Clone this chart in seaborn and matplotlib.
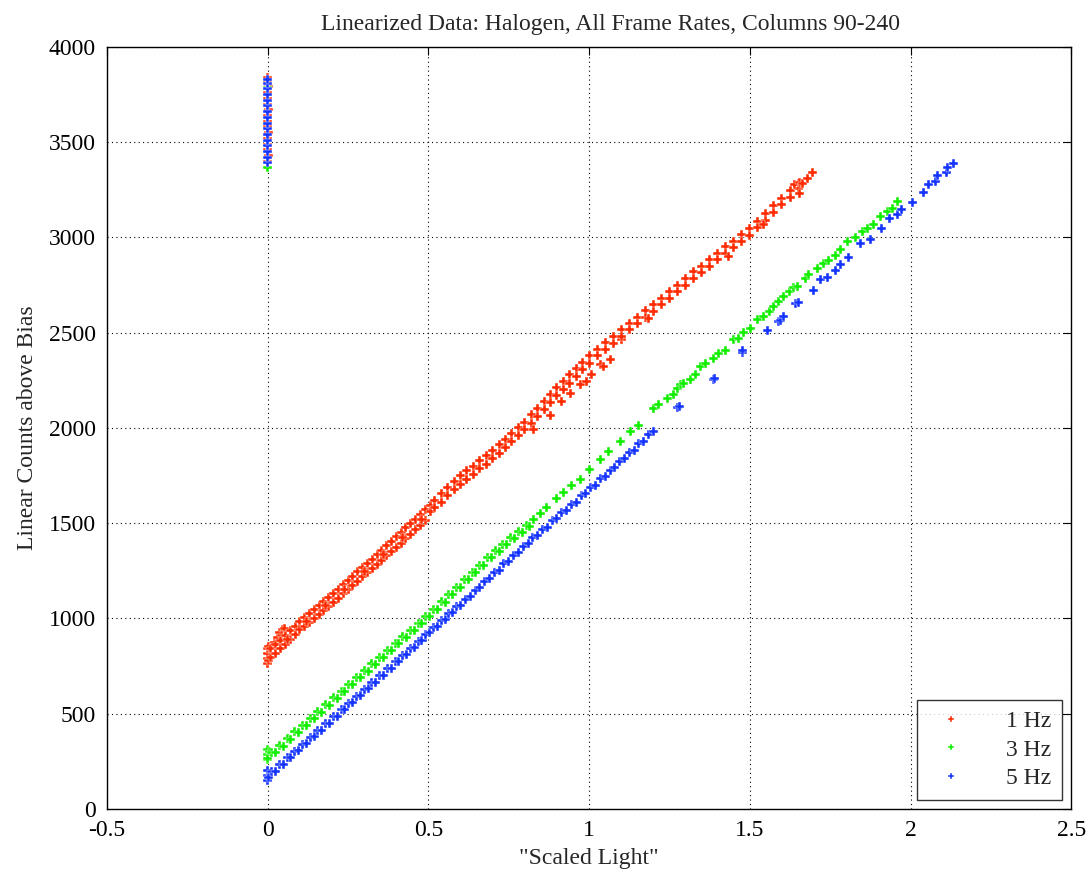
import pandas as pd
import matplotlib
matplotlib.use("Agg")
import matplotlib.pyplot as plt
import seaborn as sns

# values, (scaled light, counts)
pts_1hz_col = [(0, 3400), (0.002, 3430), (0, 3460), (-0.002, 3490), (0, 3520), (0.002, 3550),
               (0, 3580), (-0.002, 3610), (0, 3640), (0.002, 3670), (0, 3700), (-0.002, 3730),
               (0, 3760), (0.002, 3790), (0, 3815), (0, 3840)]
pts_3hz_col = [(0, 3368), (0, 3785)]
pts_5hz_col = [(0, 3395), (0, 3420), (0, 3450), (0, 3480), (0, 3510), (0, 3540), (0, 3570),
               (0, 3600), (0, 3630), (0, 3660), (0, 3690), (0, 3720), (0, 3750), (0, 3780),
               (0, 3810), (0, 3830)]

pts_1hz = [
    (0, 765), (0, 790), (0, 815), (0, 840), (0.002, 852), (0.002, 778),
    (0.02, 872), (0.03, 902), (0.038, 925), (0.046, 942), (0.052, 948), (0.044, 912),
    (0.010, 840), (0.010, 795), (0.025, 865), (0.025, 815), (0.040, 885), (0.040, 842),
    (0.055, 912), (0.055, 865), (0.070, 935), (0.070, 890), (0.085, 958), (0.085, 915),
    (0.100, 985), (0.100, 940), (0.115, 1005), (0.115, 958), (0.130, 1028), (0.130, 980),
    (0.145, 1045), (0.145, 1000), (0.160, 1068), (0.160, 1022), (0.175, 1090), (0.175, 1040),
    (0.190, 1110), (0.190, 1062), (0.205, 1130), (0.205, 1085), (0.220, 1152), (0.220, 1105),
    (0.235, 1178), (0.235, 1130), (0.250, 1198), (0.250, 1150), (0.265, 1222), (0.265, 1172),
    (0.280, 1245), (0.280, 1195), (0.295, 1268), (0.295, 1218), (0.310, 1290), (0.310, 1240),
    (0.325, 1312), (0.325, 1262), (0.340, 1335), (0.340, 1285), (0.355, 1358), (0.355, 1305),
    (0.370, 1382), (0.370, 1330), (0.385, 1402), (0.385, 1350), (0.400, 1428), (0.400, 1372),
    (0.415, 1450), (0.415, 1395), (0.430, 1475), (0.430, 1420), (0.445, 1498), (0.445, 1440),
    (0.460, 1522), (0.460, 1465), (0.475, 1545), (0.475, 1490), (0.490, 1570), (0.490, 1512),
    (0.06, 888), (0.12, 982), (0.18, 1066), (0.24, 1152), (0.30, 1245), (0.36, 1335),
    (0.42, 1425), (0.48, 1518),
    (0.505, 1595), (0.505, 1560), (0.52, 1620), (0.52, 1580), (0.54, 1655), (0.54, 1610),
    (0.56, 1685), (0.56, 1645), (0.58, 1720), (0.58, 1678), (0.60, 1748), (0.60, 1705),
    (0.62, 1775), (0.62, 1730), (0.64, 1800), (0.64, 1758), (0.66, 1828), (0.66, 1785),
    (0.68, 1855), (0.68, 1810), (0.70, 1880), (0.70, 1838), (0.72, 1912), (0.72, 1868),
    (0.74, 1940), (0.74, 1898), (0.76, 1970), (0.76, 1928), (0.78, 2002), (0.78, 1958),
    (0.80, 2030), (0.80, 1990), (0.82, 2068), (0.82, 2025), (0.84, 2102), (0.84, 2060),
    (0.86, 2138), (0.86, 2095), (0.88, 2175), (0.88, 2132), (0.90, 2210), (0.90, 2168),
    (0.92, 2245), (0.92, 2202), (0.94, 2278), (0.94, 2235), (0.96, 2312), (0.96, 2270),
    (0.98, 2345), (0.98, 2305), (1.00, 2378), (1.00, 2338),
    (0.828, 1990), (0.88, 2065), (0.915, 2138), (0.942, 2182), (0.973, 2226), (0.993, 2243),
    (1.008, 2278), (1.035, 2331), (1.046, 2322), (1.066, 2357), (1.1, 2462),
    (1.025, 2410), (1.025, 2380), (1.05, 2448), (1.05, 2412), (1.075, 2480), (1.075, 2445),
    (1.10, 2518), (1.10, 2480), (1.125, 2550), (1.125, 2515), (1.15, 2580), (1.15, 2548),
    (1.175, 2615), (1.175, 2580), (1.20, 2648), (1.20, 2612), (1.225, 2680), (1.225, 2650),
    (1.25, 2715), (1.25, 2682), (1.275, 2750), (1.275, 2718), (1.30, 2785), (1.30, 2750),
    (1.325, 2820), (1.325, 2785), (1.35, 2850), (1.35, 2818), (1.375, 2885), (1.375, 2850),
    (1.40, 2918), (1.40, 2882), (1.425, 2950), (1.425, 2915), (1.45, 2980), (1.45, 2948),
    (1.475, 3015), (1.475, 2980), (1.50, 3048), (1.50, 3012), (1.525, 3085), (1.525, 3052),
    (1.55, 3125), (1.55, 3090), (1.575, 3165), (1.575, 3132), (1.60, 3205), (1.60, 3172),
    (1.625, 3245), (1.625, 3212), (1.65, 3285), (1.65, 3255),
    (1.186, 2577), (1.435, 2899), (1.544, 3066), (1.653, 3233),
    (1.64, 3280), (1.655, 3290), (1.665, 3285), (1.68, 3310), (1.695, 3340),
]

pts_3hz = [
    (0, 258), (0, 285), (0, 310), (0.004, 300),
    (0.000, 265), (0.012, 298), (0.024, 296), (0.036, 333), (0.048, 330), (0.060, 370),
    (0.072, 366), (0.084, 405), (0.096, 402), (0.108, 440), (0.120, 438), (0.132, 476),
    (0.144, 474), (0.156, 512), (0.168, 509), (0.180, 547), (0.192, 545), (0.204, 583),
    (0.216, 581), (0.228, 619), (0.240, 616), (0.252, 654), (0.264, 652), (0.276, 690),
    (0.288, 688), (0.300, 726), (0.312, 723), (0.324, 761), (0.336, 759), (0.348, 797),
    (0.360, 795), (0.372, 832), (0.384, 830), (0.396, 868), (0.408, 866), (0.420, 904),
    (0.432, 902), (0.444, 939), (0.456, 937), (0.468, 975), (0.480, 973), (0.492, 1011),
    (0.504, 1009), (0.516, 1048), (0.528, 1047), (0.540, 1087), (0.552, 1086), (0.564, 1126),
    (0.576, 1125), (0.588, 1164), (0.600, 1164), (0.612, 1203), (0.624, 1202), (0.636, 1242),
    (0.648, 1241), (0.660, 1280), (0.672, 1280), (0.684, 1319), (0.696, 1319), (0.708, 1356),
    (0.720, 1353), (0.732, 1390), (0.744, 1386), (0.756, 1423), (0.768, 1419), (0.780, 1456),
    (0.792, 1452), (0.804, 1489), (0.816, 1485), (0.828, 1522),
    (0.85, 1553), (0.868, 1585), (0.9, 1632), (0.92, 1659), (0.946, 1700), (0.974, 1727),
    (1.0, 1780), (1.035, 1832), (1.061, 1876), (1.098, 1928), (1.129, 1981), (1.155, 2011),
    (1.201, 2103), (1.217, 2121), (1.243, 2156), (1.264, 2173), (1.274, 2208), (1.284, 2226),
    (1.295, 2235), (1.316, 2252), (1.331, 2278), (1.347, 2322), (1.362, 2340), (1.388, 2366),
    (1.404, 2392), (1.425, 2409), (1.45, 2462), (1.466, 2471), (1.481, 2500), (1.502, 2523),
    (1.523, 2567), (1.544, 2584), (1.56, 2610), (1.575, 2637), (1.59, 2663), (1.606, 2689),
    (1.622, 2716), (1.637, 2739), (1.647, 2742), (1.673, 2786), (1.684, 2808), (1.71, 2838),
    (1.73, 2865), (1.746, 2877), (1.767, 2903), (1.782, 2934), (1.803, 2978), (1.829, 3001),
    (1.85, 3031), (1.866, 3048), (1.886, 3066), (1.907, 3109), (1.927, 3136), (1.943, 3153),
    (1.959, 3188),
]

pts_5hz = [
    (0, 150), (0, 175), (0, 200), (0.003, 165),
    (0.012, 196), (0.024, 198), (0.036, 232), (0.048, 234), (0.060, 268), (0.072, 270),
    (0.084, 304), (0.096, 306), (0.108, 340), (0.120, 342), (0.132, 376), (0.144, 378),
    (0.156, 412), (0.168, 414), (0.180, 448), (0.192, 450), (0.204, 484), (0.216, 486),
    (0.228, 520), (0.240, 522), (0.252, 556), (0.264, 558), (0.276, 592), (0.288, 594),
    (0.300, 628), (0.312, 630), (0.324, 664), (0.336, 666), (0.348, 700), (0.360, 702),
    (0.372, 736), (0.384, 738), (0.396, 772), (0.408, 774), (0.420, 808), (0.432, 810),
    (0.444, 844), (0.456, 846), (0.468, 880), (0.480, 882), (0.492, 916), (0.504, 926),
    (0.516, 950), (0.528, 958), (0.540, 987), (0.552, 995), (0.564, 1024), (0.576, 1032),
    (0.588, 1061), (0.600, 1069), (0.615, 1102), (0.630, 1115), (0.645, 1148), (0.660, 1161),
    (0.675, 1195), (0.690, 1208), (0.705, 1241), (0.720, 1254), (0.735, 1287), (0.750, 1300),
    (0.765, 1333), (0.780, 1346), (0.795, 1379), (0.810, 1392), (0.825, 1425), (0.840, 1437),
    (0.855, 1469), (0.870, 1480), (0.885, 1512), (0.900, 1524), (0.915, 1556), (0.930, 1567),
    (0.945, 1599), (0.960, 1611), (0.975, 1643), (0.990, 1654), (1.005, 1687), (1.020, 1700),
    (1.035, 1733), (1.050, 1746), (1.065, 1779), (1.080, 1792), (1.095, 1825), (1.110, 1838),
    (1.125, 1871), (1.140, 1884), (1.155, 1917), (1.170, 1930), (1.185, 1963), (1.200, 1981),
    (1.274, 2105), (1.281, 2112), (1.386, 2252), (1.39, 2260), (1.476, 2398), (1.478, 2405),
    (1.554, 2509), (1.59, 2560), (1.596, 2566), (1.606, 2586), (1.642, 2655), (1.65, 2660),
    (1.699, 2724), (1.72, 2777), (1.741, 2789), (1.767, 2829), (1.782, 2856), (1.808, 2896),
    (1.844, 2970), (1.876, 2990), (1.909, 3045), (1.933, 3101), (1.959, 3122), (1.971, 3148),
    (2.005, 3183), (2.04, 3237), (2.057, 3276), (2.078, 3296), (2.083, 3323), (2.112, 3342),
    (2.114, 3365), (2.133, 3389),
]

series = {"1 Hz": pts_1hz + pts_1hz_col,
          "3 Hz": pts_3hz + pts_3hz_col,
          "5 Hz": pts_5hz + pts_5hz_col}
colors = {"1 Hz": "#ff2a00", "3 Hz": "#11ee00", "5 Hz": "#1433ff"}

rows = []
for name, pts in series.items():
    for x, y in pts:
        rows.append({"light": x, "counts": y, "rate": name})
df = pd.DataFrame(rows)

sns.set_style("white")
plt.rcParams["font.family"] = ["Liberation Serif", "DejaVu Serif"]
plt.rcParams["font.size"] = 16

fig = plt.figure(figsize=(10.92, 8.8), dpi=100)
ax = fig.add_axes([0.098, 0.0807, 0.883, 0.866])

sns.scatterplot(data=df, x="light", y="counts", hue="rate", palette=colors,
                marker="P", s=42, linewidth=0.3, ax=ax, legend=True)

ax.set_xlim(-0.5, 2.5)
ax.set_ylim(0, 4000)
ax.set_xticks([-0.5, 0, 0.5, 1, 1.5, 2, 2.5])
ax.set_xticklabels(["-0.5", "0", "0.5", "1", "1.5", "2", "2.5"])
ax.set_yticks(range(0, 4001, 500))
ax.grid(True, color="k", linestyle=(0, (1, 3)), linewidth=0.8)
ax.tick_params(direction="in", length=6, width=0.8, top=True, right=True,
               labelsize=17, pad=8, colors="k")
for sp in ax.spines.values():
    sp.set_color("k")
    sp.set_linewidth(1.0)

ax.set_title("Linearized Data: Halogen, All Frame Rates, Columns 90-240",
             fontsize=17, pad=12, x=0.522)
ax.set_xlabel('"Scaled Light"', fontsize=17, labelpad=5)
ax.set_ylabel("Linear Counts above Bias", fontsize=17, labelpad=8)

handles, labels = ax.get_legend_handles_labels()
leg = ax.legend(handles, labels, loc="lower right", bbox_to_anchor=(0.99, 0.012),
                borderaxespad=0, frameon=True, fancybox=False, edgecolor="k",
                fontsize=17, markerscale=0.75, handletextpad=1.3, borderpad=0.45,
                labelspacing=0.3)
leg.get_frame().set_linewidth(1.0)

fig.savefig("out.png", dpi=100)
